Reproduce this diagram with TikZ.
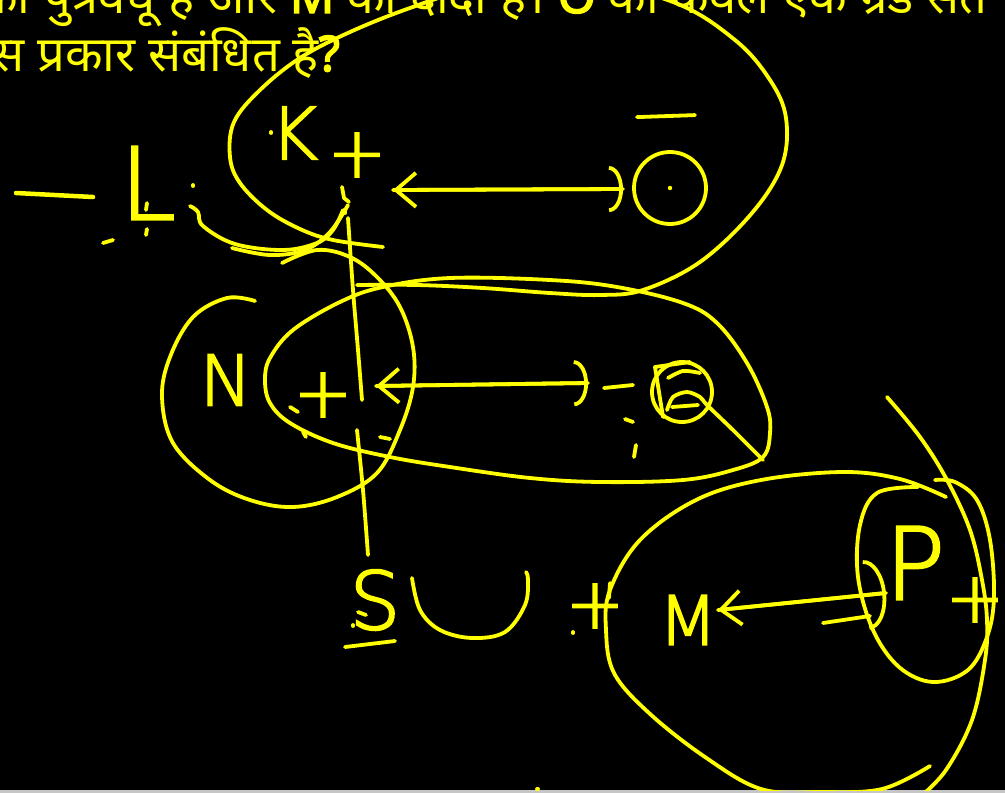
\documentclass[tikz,border=0pt]{standalone}
\usepackage{fontspec}
\newfontfamily\devfont[Script=Devanagari]{Noto Sans}
\newfontfamily\devheavy[Script=Devanagari, FakeBold=3]{Noto Sans}
\newfontfamily\handfont[FakeBold=2.5]{DejaVuSans-ExtraLight.ttf}
\usetikzlibrary{arrows.meta,calc}
\definecolor{penyellow}{RGB}{255,255,0}

\tikzset{
  pen/.style={draw=penyellow, line width=3.8pt, line cap=round, line join=round},
  letter/.style={text=penyellow, inner sep=0pt, font=\handfont\fontsize{#1}{#1}\selectfont},
  question/.style={text=penyellow, inner sep=0pt, font=\devfont\fontsize{49}{49}\selectfont},
  ltip/.style={-{Straight Barb[length=20pt,width=34pt]}},
  rtip/.style={-{Arc Barb[length=14pt,width=46pt]}}
}

\begin{document}
\begin{tikzpicture}[x=1pt, y=-1pt]

% -----------------------
% Frame
% -----------------------
\useasboundingbox (0,0) rectangle (1005,793);
\fill[black] (0,0) rectangle (1005,793);
\fill[gray!45!white] (0,790) rectangle (1005,793);
\clip (0,0) rectangle (1005,790);

% -----------------------
% Question text (cut at the top)
% -----------------------
\node[question, anchor=base west] (qline1) at (-20,13)
  {की पुत्रवधू है और {\devheavy M} का दादा है। {\devheavy O} का केवल एक ग्रैंड संत};
\node[question, anchor=base west] (qline2) at (-33,71)
  {इस प्रकार संबंधित है{\devheavy ?}};

% -----------------------
% Letters and signs
% -----------------------
\node[letter=72] (k) at (294,133) {K};
\node[letter=100] (l) at (148,183) {L};
\node[letter=70] (n) at (226,380) {N};
\node[letter=80] (s) at (375,600) {S};
\node[letter=68] (m) at (688,620) {M};
\node[letter=100] (p) at (915,563) {P};

\node[letter=70] (kplus) at (357,155) {+};
\node[letter=70] (nplus) at (323,395) {+};
\node[letter=70] (mplus) at (595,606) {+};
\node[letter=70] (rplus) at (975,600) {+};

\node[pen, circle, minimum size=72pt, inner sep=0pt] (o) at (670,188) {};
\node[pen, circle, minimum size=60pt, inner sep=0pt] (ob) at (682,392) {};
\fill[penyellow] (o.center) circle (2.2pt);

% -----------------------
% Arrows
% -----------------------
\coordinate (ktip) at (393,190);
\coordinate (otip) at (623,189);
\coordinate (ntip) at (376,386);
\coordinate (obtip) at (588,383);
\coordinate (mtip) at (718,610);
\coordinate (ptip) at (886,593);

\draw[pen, ltip] (otip) -- (ktip);
\draw[pen, rtip] (ktip) -- (otip);
\draw[pen, ltip] (obtip) -- (ntip);
\draw[pen, rtip] (ntip) -- (obtip);
\draw[pen, ltip] (ptip) -- (mtip);
\draw[pen, -{Arc Barb[length=20pt,width=70pt]}] (mtip) -- (ptip);
\draw[pen] (823,623) -- (870,616);

% -----------------------
% Loops
% -----------------------
% K and O
\draw[pen] plot[smooth, tension=0.6] coordinates {(383,247) (333,240) (300,229)
  (267,210) (240,183) (230,157) (234,122) (260,90) (300,58) (350,32) (410,8)
  (470,-10) (570,-22) (673,2) (735,40) (770,80) (786,118) (782,165) (752,213)
  (700,262) (643,290) (600,295) (550,293) (483,288) (417,285) (357,285)};
% N+ and O
\draw[pen] plot[smooth cycle, tension=0.6] coordinates {(293,330) (340,302)
  (383,287) (450,278) (550,280) (617,287) (683,303) (717,323) (747,363)
  (767,407) (770,433) (763,457) (733,470) (683,480) (600,482) (530,478)
  (450,467) (390,457) (333,443) (290,423) (270,403) (265,380) (270,358)};
% N
\draw[pen] plot[smooth, tension=0.6] coordinates {(255,301) (227,298) (193,317)
  (170,357) (162,397) (173,443) (210,480) (250,500) (293,507) (337,497)
  (377,473) (400,430) (413,387) (413,347) (400,307) (377,277) (350,257)
  (317,250) (282,263)};
% M
\draw[pen] plot[smooth, tension=0.6] coordinates {(946,497) (900,479) (843,472)
  (761,480) (696,500) (640,540) (610,590) (606,630) (614,673) (649,713)
  (705,757) (761,789) (820,792) (882,789) (930,766)};
% P
\draw[pen] plot[smooth, tension=0.6] coordinates {(918,487) (877,493) (860,525)
  (858,577) (873,630) (899,667) (933,682) (968,670) (987,637) (994,597)
  (990,540) (977,500) (955,482) (935,480)};
\draw[pen] plot[smooth, tension=0.6] coordinates {(887,397) (920,437) (947,480)
  (970,530) (982,580) (987,620) (985,660) (972,720) (946,770) (920,797)};

% -----------------------
% Hooks, bars and marks
% -----------------------
\draw[pen] plot[smooth, tension=0.6] coordinates {(190,206) (198,212) (203,226)
  (235,244) (283,250) (317,243) (333,230) (343,210)};
\draw[pen] plot[smooth, tension=0.6] coordinates {(232,248) (270,255) (305,250)
  (330,232) (348,205)};
\draw[pen] (342,187) -- (344,198) -- (349,202);
\draw[pen] plot[smooth] coordinates {(348,218) (353,290) (358,350) (362,400)};
\draw[pen] plot[smooth] coordinates {(357,430) (363,490) (368,555)};
\draw[pen] ($(o.north)+(-33,-33)$) -- ($(o.north)+(25,-35)$);
% boxed O
\draw[pen] (663,417) -- (655,367) -- (690,362);
\draw[pen] plot[smooth] coordinates {(668,378) (683,371) (700,373)};
\draw[pen] plot[smooth] coordinates {(667,410) (673,397) (687,392) (700,397)
  (707,405) (735,432) (763,460)};
\draw[pen] (672,407) -- (698,405);
% cup
\draw[pen] plot[smooth, tension=0.6] coordinates {(412,578) (420,610) (440,630)
  (472,638) (505,632) (525,605) (528,580) (526,572)};
% dashes and dots
\draw[pen, line width=4.5pt] (16,193) -- (93,197);
\draw[pen] (103,243) -- (113,240);
\draw[pen] (147,203) -- (146,210);
\draw[pen] (147,229) -- (146,235);
\draw[pen] (193,185) -- (193,186);
\draw[pen] (271,132) -- (271,133);
\draw[pen] (345,212) -- (345,213);
\draw[pen] (290,407) -- (298,412);
\draw[pen] (303,432) -- (306,437);
\draw[pen] (380,437) -- (390,439);
\draw[pen] (604,388) -- (633,385);
\draw[pen] (625,419) -- (633,422);
\draw[pen] (636,445) -- (634,457);
\draw[pen] (358,612) -- (366,615);
\draw[pen] (353,625) -- (353,626);
\draw[pen] (345,647) -- (395,641);
\draw[pen] (610,583) -- (609,598);
\draw[pen] (573,632) -- (573,633);
\draw[pen] (537,789) -- (538,789);

\end{tikzpicture}
\end{document}
